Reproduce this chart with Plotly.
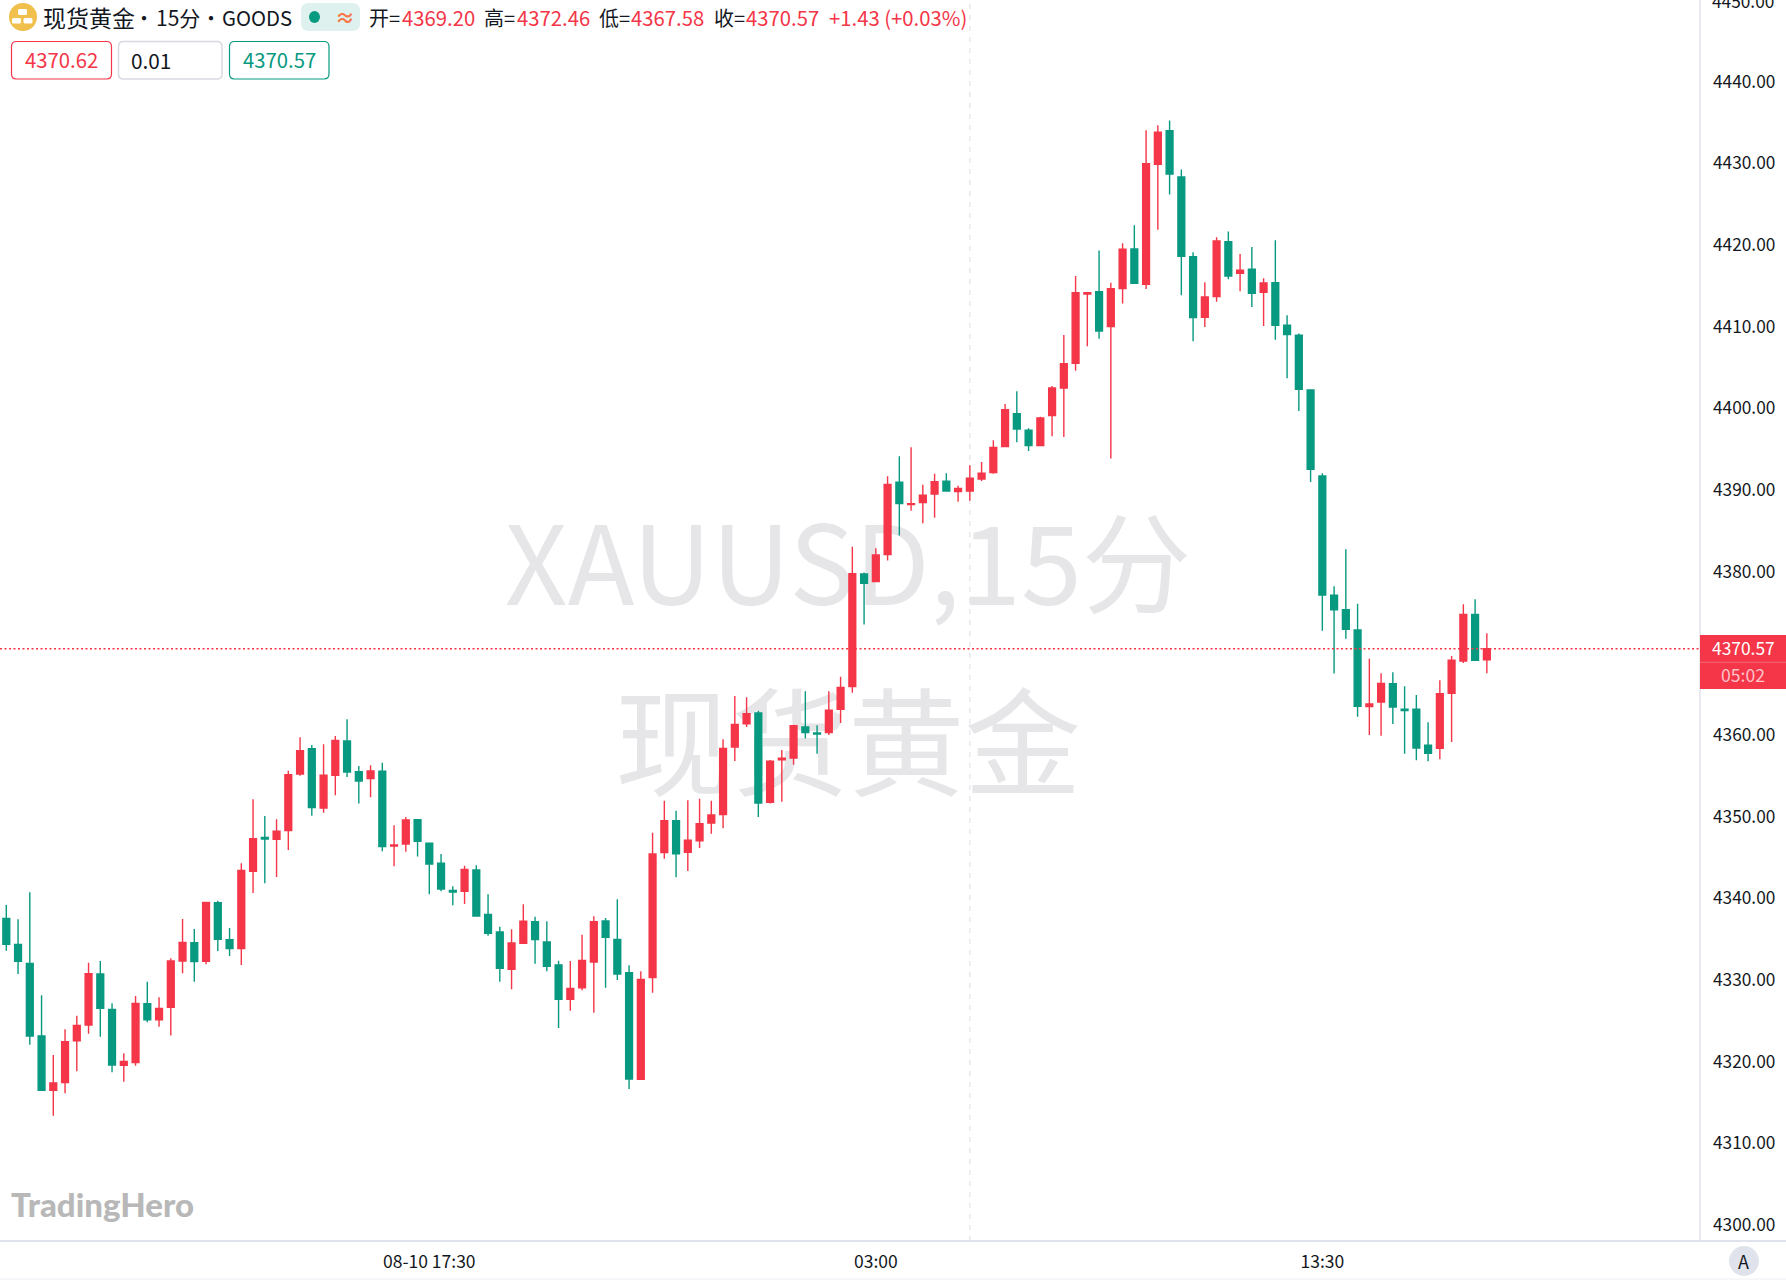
import plotly.graph_objects as go

W, H = 1786, 1280
PLOT_R, PLOT_B = 1700, 1241
FONT = "Noto Sans CJK SC"
RED = "#f43648"
GREEN = "#089981"
LINE = "#e0e3eb"

bar_index = list(range(127))

opens = [4337.55,4334.37,4332.04,4323.14,4316.49,4317.43,4322.57,4324.49,4330.74,4326.41,
4319.55,4319.88,4327.10,4325.14,4326.65,4332.33,4334.57,4332.29,4339.47,4334.94,
4333.84,4343.31,4347.47,4347.23,4348.29,4355.23,4358.33,4351.07,4355.07,4359.27,
4355.51,4354.66,4355.56,4346.41,4346.66,4349.64,4346.74,4344.29,4340.98,4340.86,
4343.47,4338.04,4335.88,4331.31,4334.49,4337.15,4334.65,4331.84,4327.63,4329.06,
4332.21,4337.23,4334.98,4330.90,4317.84,4330.29,4345.60,4349.51,4345.64,4347.06,
4349.23,4350.25,4358.54,4361.39,4362.70,4351.76,4356.98,4357.19,4360.98,4360.25,
4360.29,4363.15,4365.93,4379.72,4378.78,4382.09,4390.95,4388.21,4388.46,4389.52,
4391.07,4389.81,4389.89,4391.36,4392.13,4395.32,4399.36,4397.32,4395.44,4399.11,
4402.50,4405.52,4414.01,4414.30,4410.01,4414.67,4419.52,4415.20,4429.89,4434.01,
4428.34,4418.58,4411.16,4413.69,4420.42,4416.54,4417.03,4414.22,4415.40,4410.18,
4408.95,4402.26,4391.72,4377.11,4375.35,4372.86,4363.48,4364.05,4366.29,4363.15,
4363.15,4358.74,4358.37,4365.11,4369.07,4374.78,4369.20]

highs = [4339.19,4337.43,4340.74,4328.12,4320.82,4323.96,4325.63,4332.12,4332.33,4327.14,
4321.02,4328.04,4329.80,4327.88,4332.66,4337.47,4336.25,4339.51,4339.72,4336.37,
4344.29,4352.13,4350.09,4349.68,4355.64,4359.72,4358.78,4358.86,4359.88,4361.92,
4356.21,4356.29,4356.62,4348.94,4349.96,4349.68,4346.78,4345.43,4341.47,4344.00,
4344.04,4340.49,4336.53,4336.21,4339.27,4337.76,4337.19,4332.37,4332.33,4335.55,
4337.80,4337.59,4339.88,4331.80,4331.06,4348.04,4351.96,4350.74,4352.00,4352.21,
4351.96,4359.47,4364.78,4364.62,4362.98,4356.94,4358.17,4361.27,4365.35,4361.19,
4365.35,4367.15,4383.07,4379.89,4382.87,4391.68,4394.13,4395.23,4390.66,4392.01,
4392.05,4390.54,4393.03,4393.44,4396.09,4400.54,4402.09,4397.56,4398.99,4402.75,
4408.99,4416.22,4414.18,4419.32,4415.40,4420.22,4422.42,4434.06,4434.67,4435.24,
4429.24,4419.12,4415.44,4420.95,4421.65,4418.91,4419.77,4415.93,4420.58,4411.40,
4409.16,4402.30,4392.05,4378.21,4382.74,4376.09,4369.35,4367.56,4367.68,4365.97,
4364.90,4361.56,4366.70,4369.68,4376.01,4376.62,4372.46]

lows = [4333.59,4330.74,4322.08,4316.49,4313.39,4316.12,4318.82,4323.43,4323.06,4318.69,
4317.55,4319.51,4324.82,4324.29,4323.19,4330.82,4329.80,4331.92,4333.55,4332.94,
4331.84,4340.66,4341.84,4342.62,4345.92,4355.02,4350.13,4350.49,4352.62,4354.86,
4351.60,4352.37,4345.76,4343.92,4345.72,4345.11,4340.49,4340.86,4339.15,4339.31,
4337.84,4335.43,4329.80,4328.86,4334.49,4332.00,4331.06,4324.12,4326.25,4328.74,
4326.00,4329.06,4330.00,4316.65,4317.84,4328.45,4344.86,4342.57,4343.35,4346.17,
4347.92,4348.58,4356.82,4360.98,4349.96,4351.60,4351.84,4356.37,4359.56,4357.72,
4360.00,4361.48,4365.19,4373.52,4378.78,4381.36,4384.42,4387.48,4385.93,4386.62,
4389.89,4388.58,4388.70,4391.11,4392.01,4395.32,4395.85,4394.79,4395.36,4396.58,
4396.50,4404.62,4407.60,4408.54,4393.85,4412.83,4415.24,4414.62,4421.89,4426.18,
4413.85,4408.22,4409.97,4413.07,4415.81,4414.34,4412.42,4410.09,4408.42,4403.69,
4399.68,4390.99,4372.78,4367.52,4371.80,4362.25,4360.01,4359.92,4361.35,4357.72,
4356.90,4356.78,4357.03,4359.15,4368.82,4369.15,4367.58]

closes = [4334.37,4332.29,4323.14,4316.49,4317.39,4322.45,4324.45,4330.78,4326.53,4319.59,
4320.04,4327.14,4325.14,4326.53,4332.33,4334.61,4332.25,4339.51,4334.98,4333.84,
4343.43,4347.31,4347.27,4348.21,4355.15,4358.09,4351.11,4355.07,4359.35,4355.47,
4354.37,4355.60,4346.33,4346.53,4349.60,4346.98,4344.21,4341.15,4340.78,4343.55,
4337.84,4335.72,4331.43,4334.53,4337.19,4334.94,4331.67,4327.63,4328.98,4332.41,
4337.15,4335.23,4330.74,4317.88,4330.08,4345.43,4349.51,4345.47,4347.11,4349.15,
4350.21,4358.37,4361.31,4362.62,4351.68,4356.78,4357.15,4361.15,4360.29,4360.13,
4363.03,4365.84,4379.76,4378.58,4382.05,4390.70,4388.34,4388.34,4389.36,4391.03,
4389.89,4390.21,4391.44,4392.05,4395.23,4399.85,4397.48,4395.44,4398.83,4402.50,
4405.47,4414.18,4414.18,4409.48,4414.67,4419.48,4415.32,4429.97,4433.81,4428.71,
4418.63,4411.11,4413.65,4420.50,4416.22,4416.91,4414.09,4415.36,4410.18,4409.03,
4402.34,4392.54,4377.15,4375.35,4372.95,4363.52,4363.80,4366.33,4363.43,4362.99,
4358.41,4357.76,4365.07,4369.15,4374.78,4369.15,4370.57]

time_tick_index = [36, 74, 112]
time_tick_labels = ["08-10 17:30", "03:00", "13:30"]
price_ticks = [4300, 4310, 4320, 4330, 4340, 4350, 4360, 4380, 4390,
               4400, 4410, 4420, 4430, 4440]
crosshair_index = 82
last_price = 4370.57
ask_price, spread, bid_price = "4370.62", "0.01", "4370.57"


def px(x):
    return x / W


def py(y):
    return 1 - y / H


def rounded(x0, y0, x1, y1, r):
    a, b, c, d = px(x0), px(x1), py(y0), py(y1)
    rx, ry = r / W, r / H
    return (f"M{a + rx},{c} L{b - rx},{c} Q{b},{c} {b},{c - ry} L{b},{d + ry} Q{b},{d} {b - rx},{d} "
            f"L{a + rx},{d} Q{a},{d} {a},{d + ry} L{a},{c - ry} Q{a},{c} {a + rx},{c} Z")


fig = go.Figure()

# watermark lives on a hidden base subplot so the candles draw over it
fig.add_trace(go.Scatter(
    x=[848, 848], y=[578, 758], mode="text",
    text=["XAUUSD,15分", "现货黄金"],
    textfont=dict(family=FONT, size=[109.5, 116.5], color="#e6e6e9"),
    hoverinfo="skip", showlegend=False, xaxis="x", yaxis="y",
))

fig.add_trace(go.Candlestick(
    x=bar_index, open=opens, high=highs, low=lows, close=closes,
    increasing=dict(line=dict(color=RED, width=1.4), fillcolor=RED),
    decreasing=dict(line=dict(color=GREEN, width=1.4), fillcolor=GREEN),
    whiskerwidth=0, showlegend=False, xaxis="x2", yaxis="y2",
))

shapes = [
    dict(type="line", xref="x2", yref="paper", x0=crosshair_index, x1=crosshair_index,
         y0=py(PLOT_B), y1=1, line=dict(color=LINE, width=1.2, dash="5px,6px"), layer="below"),
    dict(type="line", xref="paper", yref="y2", x0=0, x1=px(PLOT_R), y0=last_price, y1=last_price,
         line=dict(color=RED, width=1.5, dash="2px,2.5px"), layer="above"),
    dict(type="line", xref="paper", yref="paper", x0=px(PLOT_R), x1=px(PLOT_R), y0=py(PLOT_B), y1=1,
         line=dict(color=LINE, width=1.5)),
    dict(type="line", xref="paper", yref="paper", x0=0, x1=1, y0=py(PLOT_B), y1=py(PLOT_B),
         line=dict(color=LINE, width=2)),
    dict(type="line", xref="paper", yref="paper", x0=0, x1=1, y0=py(1279), y1=py(1279),
         line=dict(color="#eceef3", width=1)),
    # last price tag
    dict(type="rect", xref="paper", yref="paper", x0=px(1700), x1=1, y0=py(635), y1=py(689),
         fillcolor=RED, line=dict(width=0)),
    dict(type="line", xref="paper", yref="paper", x0=px(1700), x1=1, y0=py(662.3), y1=py(662.3),
         line=dict(color="#f76a78", width=1)),
    # header icon
    dict(type="circle", xref="paper", yref="paper", x0=px(9), x1=px(37), y0=py(3), y1=py(31),
         fillcolor="#f0bf4c", line=dict(width=0)),
    dict(type="path", xref="paper", yref="paper", path=rounded(18, 9, 27, 15, 1.5),
         fillcolor="white", line=dict(width=0)),
    dict(type="path", xref="paper", yref="paper", path=rounded(12, 18, 21, 23.5, 1.5),
         fillcolor="white", line=dict(width=0)),
    dict(type="path", xref="paper", yref="paper", path=rounded(23.5, 18, 32.5, 23.5, 1.5),
         fillcolor="white", line=dict(width=0)),
    # status pill
    dict(type="path", xref="paper", yref="paper", path=rounded(301, 3, 360, 31, 8),
         fillcolor="#def1ee", line=dict(width=0)),
    dict(type="circle", xref="paper", yref="paper", x0=px(309), x1=px(320), y0=py(11), y1=py(23),
         fillcolor=GREEN, line=dict(width=0)),
    # quote boxes
    dict(type="path", xref="paper", yref="paper", path=rounded(11.5, 41.5, 111.5, 79, 5),
         fillcolor="white", line=dict(color=RED, width=1.2)),
    dict(type="path", xref="paper", yref="paper", path=rounded(118.5, 41.5, 222, 79, 5),
         fillcolor="white", line=dict(color="#d8d9e3", width=1.5)),
    dict(type="path", xref="paper", yref="paper", path=rounded(229.5, 41.5, 329, 79, 5),
         fillcolor="white", line=dict(color=GREEN, width=1.2)),
    # auto-scale button
    dict(type="circle", xref="paper", yref="paper", x0=px(1729), x1=px(1759), y0=py(1246), y1=py(1276),
         fillcolor=LINE, line=dict(width=0)),
]


def label(x, y, text, size=19, color="#131722", anchor="left", family=FONT, weight=None):
    font = dict(family=family, size=size, color=color)
    if weight:
        font["weight"] = weight
    return dict(xref="paper", yref="paper", x=px(x), y=py(y), text=text, showarrow=False,
                xanchor=anchor, yanchor="middle", align=anchor, borderpad=0, borderwidth=0,
                font=font)


annotations = [
    label(43, 17, "现货黄金", size=23),
    label(143.5, 17, "•", size=20, anchor="center"),
    label(156, 17, "15分", size=21),
    label(211, 17, "•", size=20, anchor="center"),
    label(222, 17, "GOODS", size=20.3),
    label(345, 17, "≈", size=20, color="#f7794a", anchor="center", weight="bold"),
    label(369, 17, "开=", size=20),
    label(402, 17, "4369.20", size=20.3, color=RED),
    label(484, 17, "高=", size=20),
    label(517, 17, "4372.46", size=20.3, color=RED),
    label(599, 17, "低=", size=20),
    label(631, 17, "4367.58", size=20.3, color=RED),
    label(714, 17, "收=", size=20),
    label(746, 17, "4370.57", size=20.3, color=RED),
    label(829, 17, "+1.43 (+0.03%)", size=20.3, color=RED),
    label(61.5, 59, ask_price, size=20.3, color=RED, anchor="center"),
    label(131, 60.5, spread, size=20.8, color="#131722"),
    label(279, 59, bid_price, size=20.3, color=GREEN, anchor="center"),
    label(11, 1204, "TradingHero", size=33, color="#b8b8b8", family="Lato", weight=900),
    label(1743, 647.5, "4370.57", size=17.4, color="white", anchor="center"),
    label(1743, 674.5, "05:02", size=17.6, color="#ffc2c8", anchor="center"),
    label(1743.5, 1260.5, "A", size=18, anchor="center"),
    label(1743, 0, "4450.00", size=17.3, anchor="center"),
]

fig.update_layout(
    width=W, height=H, autosize=False,
    margin=dict(l=0, r=0, t=0, b=0, pad=0),
    paper_bgcolor="white", plot_bgcolor="white",
    boxgap=0.42, boxgroupgap=0,
    showlegend=False, dragmode=False,
    xaxis=dict(domain=[0, PLOT_R / W], range=[0, PLOT_R], visible=False, fixedrange=True),
    yaxis=dict(domain=[py(PLOT_B), 1], range=[PLOT_B, 0], visible=False, fixedrange=True),
    xaxis2=dict(
        domain=[0, PLOT_R / W], overlaying="x", anchor="y2", side="bottom",
        range=[-0.536, 144.14], rangeslider=dict(visible=False), showgrid=False, zeroline=False,
        tickmode="array", tickvals=time_tick_index, ticktext=time_tick_labels,
        ticks="", showline=False, ticklabelstandoff=8,
        tickfont=dict(family=FONT, size=17.5, color="#131722"), fixedrange=True,
    ),
    yaxis2=dict(
        domain=[py(PLOT_B), 1], overlaying="y", anchor="x2", side="right",
        range=[4298.04, 4450.01], showgrid=False, zeroline=False, showline=False,
        tickmode="array", tickvals=price_ticks, tickformat=".2f", ticks="",
        ticklabelstandoff=12,
        tickfont=dict(family=FONT, size=17.3, color="#131722"), fixedrange=True,
    ),
    shapes=shapes, annotations=annotations,
)

fig.write_html("out.html", config=dict(displayModeBar=False),
               post_script="document.body.style.margin='0';document.body.style.overflow='hidden';")
